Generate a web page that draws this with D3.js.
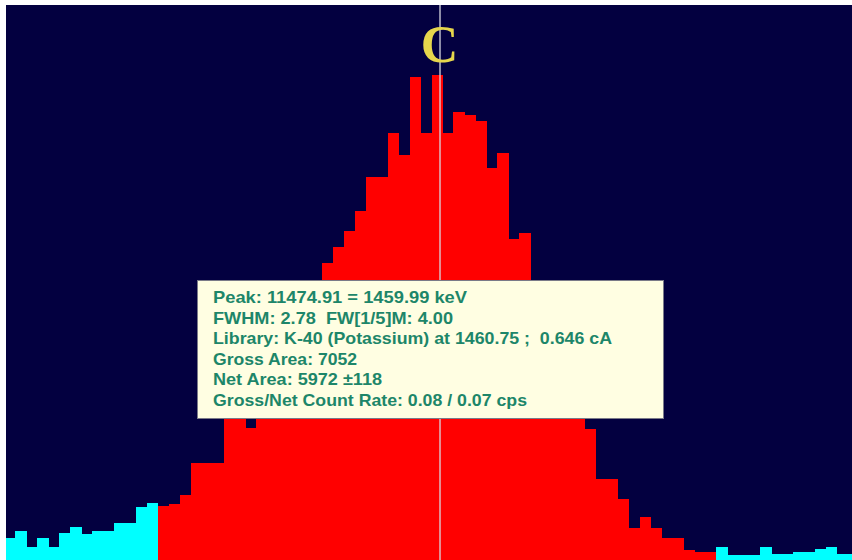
<!DOCTYPE html>
<html>
<head>
<meta charset="utf-8">
<script src="https://cdn.jsdelivr.net/npm/d3@7"></script>
<style>
  html, body { margin: 0; padding: 0; background: #ffffff; }
  svg { display: block; }
  .info-line { white-space: pre; }
</style>
</head>
<body>
<svg id="chart" width="852" height="560"></svg>
<script>
// Spectrum segment around the K-40 line: one count per channel
const firstChannel = 11435;
const counts = [
  14, 18, 8, 14, 8, 17, 21, 16, 18, 18, 23, 23, 33, 36,
  34, 35, 41, 61, 61, 61, 91, 94, 83, 103, 116, 129, 141, 160, 169, 186,
  196, 206, 219, 240, 240, 268, 254, 303, 268, 304, 268, 281, 279, 275,
  246, 255, 201, 205, 163, 144, 129, 113, 97, 82, 51, 51, 38, 20, 27, 20,
  14, 14, 6, 5, 5,
  8, 3, 3, 3, 8, 4, 4, 5, 5, 7, 8, 4, 4
];
// Region of interest (inclusive channel range)
const roiStart = 11449;
const roiEnd = 11499;
// Peak centroid and its marker
const peakChannel = 11474.91;
const peakMarker = "C";
// Peak report lines
const infoLines = [
  "Peak: 11474.91 = 1459.99 keV",
  "FWHM: 2.78  FW[1/5]M: 4.00",
  "Library: K-40 (Potassium) at 1460.75 ;  0.646 cA",
  "Gross Area: 7052",
  "Net Area: 5972 \u00b1118",
  "Gross/Net Count Rate: 0.08 / 0.07 cps"
];
const countMax = 348;

const plot = { left: 6, top: 5, right: 852, bottom: 560 };
const binPx = 10.95;

const svg = d3.select("#chart");

const data = counts.map((c, i) => ({ channel: firstChannel + i, count: c }));

const x = d3.scaleLinear()
  .domain([firstChannel, firstChannel + counts.length])
  .range([4.5, 4.5 + counts.length * binPx]);

const y = d3.scaleLinear()
  .domain([0, countMax])
  .range([plot.bottom, plot.top]);

svg.append("defs").append("clipPath").attr("id", "plotClip")
  .append("rect")
  .attr("x", plot.left).attr("y", plot.top)
  .attr("width", plot.right - plot.left)
  .attr("height", plot.bottom - plot.top);

// plot background
svg.append("rect")
  .attr("x", plot.left).attr("y", plot.top)
  .attr("width", plot.right - plot.left)
  .attr("height", plot.bottom - plot.top)
  .attr("fill", "#030040");

const g = svg.append("g").attr("clip-path", "url(#plotClip)");

// histogram bars: ROI in red, background channels in cyan
g.selectAll("rect.bin")
  .data(data)
  .join("rect")
  .attr("class", "bin")
  .attr("x", d => x(d.channel))
  .attr("y", d => y(d.count))
  .attr("width", d => x(d.channel + 1) - x(d.channel) + 0.6)
  .attr("height", d => y(0) - y(d.count))
  .attr("fill", d => (d.channel >= roiStart && d.channel <= roiEnd) ? "#ff0000" : "#00ffff")
  .attr("shape-rendering", "crispEdges");

// peak cursor
g.append("line")
  .attr("x1", x(peakChannel) - 1.5).attr("x2", x(peakChannel) - 1.5)
  .attr("y1", plot.top).attr("y2", plot.bottom)
  .attr("stroke", "#d8d8e0")
  .attr("stroke-opacity", 0.65)
  .attr("stroke-width", 2);

// peak marker letter
g.append("text")
  .attr("x", x(peakChannel) - 2)
  .attr("y", 62)
  .attr("text-anchor", "middle")
  .attr("font-family", "'Liberation Serif', 'DejaVu Serif', serif")
  .attr("font-weight", "bold")
  .attr("font-size", 52)
  .attr("fill", "#e6d64c")
  .text(peakMarker);

// info box
const box = { x: 197, y: 280, w: 466, h: 138 };
const info = svg.append("g");
info.append("rect")
  .attr("x", box.x + 0.5).attr("y", box.y + 0.5)
  .attr("width", box.w).attr("height", box.h)
  .attr("fill", "#fffee2")
  .attr("stroke", "#7a7a88")
  .attr("stroke-width", 1);

const lineWidths = [254, 240, 399, 144, 169, 314];
info.selectAll("text")
  .data(infoLines)
  .join("text")
  .attr("class", "info-line")
  .attr("xml:space", "preserve")
  .attr("x", 213)
  .attr("y", (d, i) => 303 + i * 20.6)
  .attr("font-family", "'Liberation Sans', Arial, sans-serif")
  .attr("font-weight", "bold")
  .attr("font-size", 16.5)
  .attr("fill", "#1d8669")
  .attr("textLength", (d, i) => lineWidths[i])
  .attr("lengthAdjust", "spacingAndGlyphs")
  .text(d => d);
</script>
</body>
</html>
